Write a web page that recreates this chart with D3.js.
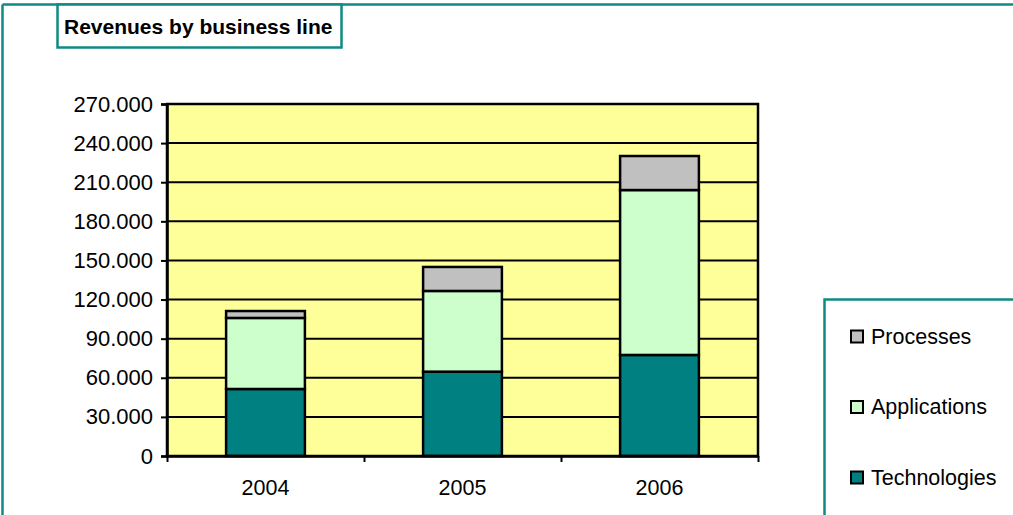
<!DOCTYPE html>
<html>
<head>
<meta charset="utf-8">
<script src="https://cdn.jsdelivr.net/npm/d3@7"></script>
<style>
  body { margin: 0; background: #fff; }
  svg { display: block; font-family: Arial, "Liberation Sans", sans-serif; }
</style>
</head>
<body>
<svg></svg>
<script>
var width = 1013;
var height = 515;

// data (thousands)
var years = ["2004", "2005", "2006"];
var seriesNames = ["Technologies", "Applications", "Processes"];
var technologies = [51400, 64700, 77500];
var applications = [54500, 61900, 126500];
var processes = [5300, 18400, 26100];
var yTicks = [0, 30000, 60000, 90000, 120000, 150000, 180000, 210000, 240000, 270000];

var colors = { Technologies: "#008080", Applications: "#CCFFCC", Processes: "#C0C0C0" };
var teal = "#0E8A84";
var fontSize = "21.5px";

var svg = d3.select("svg")
  .attr("width", width)
  .attr("height", height);

// outer frame (only top & left visible)
svg.append("line").attr("x1", 2.5).attr("x2", width).attr("y1", 4.5).attr("y2", 4.5)
  .attr("stroke", teal).attr("stroke-width", 2.5);
svg.append("line").attr("x1", 2.5).attr("x2", 2.5).attr("y1", 4.5).attr("y2", height)
  .attr("stroke", teal).attr("stroke-width", 2.5);

// title box
svg.append("rect").attr("x", 57.5).attr("y", 4.5).attr("width", 284).attr("height", 43)
  .attr("fill", "#fff").attr("stroke", teal).attr("stroke-width", 2.5);
svg.append("text").attr("x", 64).attr("y", 34)
  .attr("font-size", "21px").attr("font-weight", "bold")
  .text("Revenues by business line");

var margin = { left: 167, right: 758, top: 104, bottom: 456 };

var x = d3.scaleBand()
  .domain(years)
  .range([margin.left, margin.right])
  .paddingInner(0.6)
  .paddingOuter(0.3);

var y = d3.scaleLinear()
  .domain([0, 270000])
  .range([margin.bottom, margin.top]);

var locale = d3.formatLocale({ decimal: ",", thousands: ".", grouping: [3], currency: ["", ""] });
var fmt = locale.format(",");

// plot background
svg.append("rect")
  .attr("x", margin.left).attr("y", margin.top)
  .attr("width", margin.right - margin.left).attr("height", margin.bottom - margin.top)
  .attr("fill", "#FFFF99");

// gridlines
svg.append("g").selectAll("line")
  .data(yTicks.filter(function(d) { return d > 0; }))
  .enter().append("line")
  .attr("x1", margin.left).attr("x2", margin.right)
  .attr("y1", function(d) { return y(d); }).attr("y2", function(d) { return y(d); })
  .attr("stroke", "#000").attr("stroke-width", 2);

// stacked bars
var table = years.map(function(yr, i) {
  return { year: yr, Technologies: technologies[i], Applications: applications[i], Processes: processes[i] };
});
var stack = d3.stack().keys(seriesNames)(table);

svg.append("g").selectAll("g")
  .data(stack)
  .enter().append("g")
  .attr("fill", function(d) { return colors[d.key]; })
  .selectAll("rect")
  .data(function(d) { return d; })
  .enter().append("rect")
  .attr("x", function(d) { return x(d.data.year); })
  .attr("width", x.bandwidth())
  .attr("y", function(d) { return y(d[1]); })
  .attr("height", function(d) { return y(d[0]) - y(d[1]); })
  .attr("stroke", "#000").attr("stroke-width", 2.5);

// plot border
svg.append("rect")
  .attr("x", margin.left).attr("y", margin.top)
  .attr("width", margin.right - margin.left).attr("height", margin.bottom - margin.top)
  .attr("fill", "none").attr("stroke", "#000").attr("stroke-width", 2.5);

// y axis
var yAxis = svg.append("g")
  .attr("transform", "translate(" + margin.left + ",0)")
  .call(d3.axisLeft(y).tickValues(yTicks).tickFormat(fmt).tickSize(6).tickPadding(8));
yAxis.select(".domain").attr("stroke-width", 2.5);
yAxis.selectAll(".tick line").attr("stroke-width", 2);
yAxis.selectAll("text").attr("font-size", "22px").attr("font-family", "Arial, 'Liberation Sans', sans-serif").attr("fill", "#000");

// x axis: ticks at category boundaries
var xb = d3.scaleLinear().domain([0, years.length]).range([margin.left, margin.right]);
var xAxis = svg.append("g")
  .attr("transform", "translate(0," + margin.bottom + ")")
  .call(d3.axisBottom(xb).tickValues(d3.range(0, years.length + 1)).tickFormat("").tickSize(6).tickSizeOuter(0));
xAxis.select(".domain").attr("stroke-width", 2.5);
xAxis.selectAll(".tick line").attr("stroke-width", 2);

svg.append("g").selectAll("text")
  .data(years)
  .enter().append("text")
  .attr("x", function(d) { return x(d) + x.bandwidth() / 2; })
  .attr("y", 495)
  .attr("text-anchor", "middle")
  .attr("font-size", fontSize)
  .text(function(d) { return d; });

// legend box
svg.append("rect").attr("x", 824.5).attr("y", 299.5).attr("width", 200).attr("height", 230)
  .attr("fill", "#fff").attr("stroke", teal).attr("stroke-width", 2.5);

var legendOrder = ["Processes", "Applications", "Technologies"];
var legend = svg.append("g").selectAll("g")
  .data(legendOrder)
  .enter().append("g")
  .attr("transform", function(d, i) { return "translate(851," + (330.5 + i * 70.5) + ")"; });

legend.append("rect")
  .attr("x", 0).attr("y", 0).attr("width", 12).attr("height", 12)
  .attr("fill", function(d) { return colors[d]; })
  .attr("stroke", "#000").attr("stroke-width", 2);

legend.append("text")
  .attr("x", 20).attr("y", 13)
  .attr("font-size", fontSize)
  .text(function(d) { return d; });
</script>
</body>
</html>
